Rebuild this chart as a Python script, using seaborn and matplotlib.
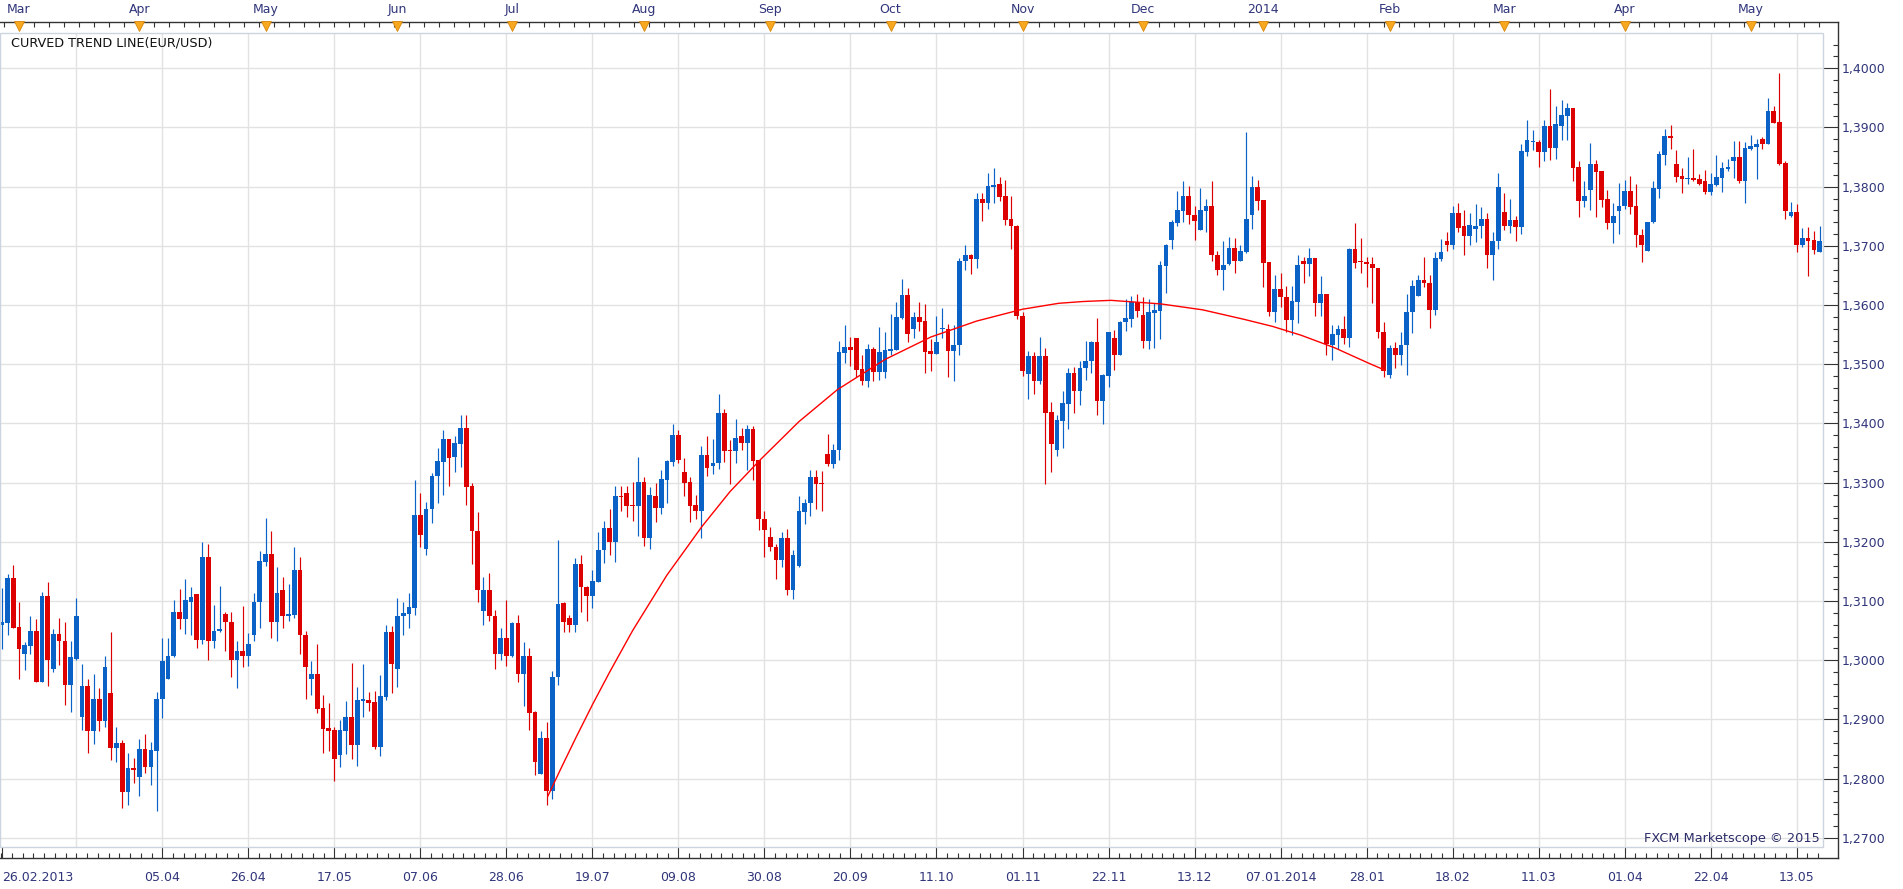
import numpy as np
import pandas as pd
import matplotlib
matplotlib.use("Agg")
import matplotlib.pyplot as plt
import seaborn as sns
from matplotlib.ticker import FixedLocator, FuncFormatter, MultipleLocator
from matplotlib.patches import Rectangle

# =============================== #
# data (EUR/USD daily)
# =============================== #
opens = [
    1.3059, 1.3063, 1.3139, 1.3057, 1.3010, 1.3024, 1.3050, 1.2964, 1.3108, 1.2985,
    1.3045, 1.3033, 1.2959, 1.3003, 1.2905, 1.2957, 1.2881, 1.2935, 1.2897, 1.2944,
    1.2851, 1.2860, 1.2778, 1.2818, 1.2802, 1.2850, 1.2819, 1.2847, 1.2934, 1.2968,
    1.3007, 1.3082, 1.3069, 1.3099, 1.3112, 1.3035, 1.3175, 1.3032, 1.3049, 1.3079,
    1.3065, 1.3001, 1.3016, 1.3008, 1.3042, 1.3098, 1.3166, 1.3180, 1.3064, 1.3118,
    1.3074, 1.3077, 1.3153, 1.3043, 1.2969, 1.2976, 1.2920, 1.2886, 1.2882, 1.2840,
    1.2881, 1.2905, 1.2857, 1.2932, 1.2933, 1.2929, 1.2854, 1.2938, 1.3048, 1.2986,
    1.3074, 1.3079, 1.3089, 1.3245, 1.3188, 1.3255, 1.3311, 1.3335, 1.3373, 1.3343,
    1.3366, 1.3392, 1.3294, 1.3219, 1.3084, 1.3118, 1.3075, 1.3010, 1.3038, 1.3007,
    1.3063, 1.2977, 1.3008, 1.2912, 1.2808, 1.2868, 1.2779, 1.2971, 1.3096, 1.3072,
    1.3060, 1.3163, 1.3124, 1.3108, 1.3132, 1.3186, 1.3224, 1.3199, 1.3277, 1.3282,
    1.3262, 1.3260, 1.3301, 1.3206, 1.3277, 1.3257, 1.3305, 1.3335, 1.3380, 1.3318,
    1.3301, 1.3262, 1.3252, 1.3346, 1.3328, 1.3333, 1.3418, 1.3355, 1.3353, 1.3379,
    1.3367, 1.3390, 1.3338, 1.3239, 1.3208, 1.3192, 1.3169, 1.3206, 1.3118, 1.3159,
    1.3251, 1.3265, 1.3309, 1.3299, 1.3349, 1.3331, 1.3355, 1.3519, 1.3529, 1.3544,
    1.3492, 1.3471, 1.3526, 1.3487, 1.3487, 1.3522, 1.3524, 1.3578, 1.3617, 1.3559,
    1.3580, 1.3573, 1.3523, 1.3518, 1.3559, 1.3559, 1.3523, 1.3532, 1.3674, 1.3684,
    1.3677, 1.3780, 1.3773, 1.3799, 1.3804, 1.3784, 1.3745, 1.3734, 1.3582, 1.3484,
    1.3514, 1.3472, 1.3514, 1.3420, 1.3355, 1.3405, 1.3433, 1.3486, 1.3455, 1.3493,
    1.3505, 1.3538, 1.3438, 1.3481, 1.3545, 1.3515, 1.3571, 1.3577, 1.3606, 1.3584,
    1.3540, 1.3587, 1.3590, 1.3666, 1.3710, 1.3738, 1.3759, 1.3785, 1.3753, 1.3727,
    1.3759, 1.3767, 1.3685, 1.3660, 1.3669, 1.3696, 1.3674, 1.3689, 1.3752, 1.3799,
    1.3777, 1.3672, 1.3589, 1.3628, 1.3614, 1.3574, 1.3606, 1.3675, 1.3669, 1.3679,
    1.3603, 1.3619, 1.3533, 1.3550, 1.3560, 1.3545, 1.3695, 1.3674, 1.3673, 1.3670,
    1.3663, 1.3555, 1.3482, 1.3528, 1.3516, 1.3532, 1.3588, 1.3615, 1.3643, 1.3638,
    1.3591, 1.3677, 1.3709, 1.3702, 1.3756, 1.3733, 1.3716, 1.3728, 1.3733, 1.3745,
    1.3684, 1.3708, 1.3758, 1.3733, 1.3743, 1.3732, 1.3859, 1.3875, 1.3875, 1.3859,
    1.3902, 1.3866, 1.3902, 1.3919, 1.3933, 1.3833, 1.3776, 1.3794, 1.3838, 1.3826,
    1.3779, 1.3738, 1.3759, 1.3767, 1.3792, 1.3767, 1.3719, 1.3691, 1.3740, 1.3796,
    1.3854, 1.3886, 1.3838, 1.3818, 1.3813, 1.3814, 1.3813, 1.3809, 1.3791, 1.3803,
    1.3815, 1.3830, 1.3844, 1.3850, 1.3810, 1.3864, 1.3867, 1.3880, 1.3872, 1.3928,
    1.3909, 1.3840, 1.3751, 1.3757, 1.3702, 1.3714, 1.3710, 1.3690,
]
highs = [
    1.3122, 1.3146, 1.3161, 1.3099, 1.3031, 1.3074, 1.3069, 1.3116, 1.3133, 1.3053,
    1.3072, 1.3064, 1.3032, 1.3106, 1.2994, 1.2969, 1.2977, 1.2954, 1.3008, 1.3047,
    1.2888, 1.2866, 1.2844, 1.2835, 1.2867, 1.2876, 1.2862, 1.2947, 1.3038, 1.3037,
    1.3101, 1.3120, 1.3137, 1.3124, 1.3112, 1.3199, 1.3197, 1.3094, 1.3126, 1.3082,
    1.3082, 1.3033, 1.3092, 1.3046, 1.3114, 1.3184, 1.3241, 1.3218, 1.3158, 1.3140,
    1.3129, 1.3192, 1.3175, 1.3050, 1.2998, 1.3028, 1.2942, 1.2928, 1.2888, 1.2899,
    1.2932, 1.2996, 1.2955, 1.2993, 1.2947, 1.2948, 1.2975, 1.3060, 1.3058, 1.3106,
    1.3099, 1.3114, 1.3304, 1.3282, 1.3267, 1.3316, 1.3358, 1.3389, 1.3373, 1.3379,
    1.3414, 1.3414, 1.3299, 1.3251, 1.3141, 1.3148, 1.3085, 1.3055, 1.3101, 1.3065,
    1.3077, 1.3031, 1.3020, 1.2915, 1.2881, 1.2896, 1.2982, 1.3204, 1.3098, 1.3077,
    1.3172, 1.3177, 1.3126, 1.3153, 1.3216, 1.3236, 1.3255, 1.3294, 1.3295, 1.3295,
    1.3301, 1.3343, 1.3309, 1.3292, 1.3299, 1.3321, 1.3338, 1.3399, 1.3389, 1.3341,
    1.3309, 1.3279, 1.3362, 1.3379, 1.3373, 1.3450, 1.3424, 1.3372, 1.3407, 1.3392,
    1.3397, 1.3395, 1.3339, 1.3253, 1.3225, 1.3196, 1.3216, 1.3221, 1.3187, 1.3278,
    1.3273, 1.3322, 1.3322, 1.3319, 1.3383, 1.3366, 1.3539, 1.3566, 1.3546, 1.3544,
    1.3515, 1.3534, 1.3529, 1.3563, 1.3554, 1.3585, 1.3605, 1.3644, 1.3629, 1.3588,
    1.3605, 1.3602, 1.3543, 1.3581, 1.3595, 1.3568, 1.3566, 1.3680, 1.3702, 1.3687,
    1.3790, 1.3790, 1.3823, 1.3831, 1.3816, 1.3811, 1.3784, 1.3736, 1.3588, 1.3523,
    1.3521, 1.3546, 1.3528, 1.3437, 1.3415, 1.3455, 1.3494, 1.3496, 1.3505, 1.3540,
    1.3540, 1.3579, 1.3484, 1.3555, 1.3558, 1.3573, 1.3611, 1.3616, 1.3619, 1.3614,
    1.3611, 1.3604, 1.3675, 1.3704, 1.3743, 1.3792, 1.3809, 1.3801, 1.3767, 1.3797,
    1.3780, 1.3809, 1.3692, 1.3708, 1.3715, 1.3713, 1.3701, 1.3892, 1.3818, 1.3811,
    1.3777, 1.3672, 1.3651, 1.3655, 1.3633, 1.3632, 1.3685, 1.3682, 1.3697, 1.3679,
    1.3649, 1.3619, 1.3567, 1.3567, 1.3582, 1.3697, 1.3738, 1.3714, 1.3682, 1.3682,
    1.3663, 1.3572, 1.3533, 1.3537, 1.3554, 1.3618, 1.3642, 1.3650, 1.3682, 1.3650,
    1.3690, 1.3712, 1.3723, 1.3768, 1.3772, 1.3760, 1.3756, 1.3770, 1.3765, 1.3755,
    1.3724, 1.3823, 1.3790, 1.3780, 1.3750, 1.3872, 1.3912, 1.3895, 1.3879, 1.3912,
    1.3965, 1.3936, 1.3946, 1.3941, 1.3933, 1.3844, 1.3809, 1.3873, 1.3845, 1.3826,
    1.3795, 1.3772, 1.3807, 1.3812, 1.3818, 1.3804, 1.3729, 1.3741, 1.3809, 1.3860,
    1.3897, 1.3904, 1.3862, 1.3831, 1.3850, 1.3864, 1.3821, 1.3828, 1.3823, 1.3853,
    1.3842, 1.3847, 1.3877, 1.3877, 1.3875, 1.3887, 1.3880, 1.3884, 1.3950, 1.3936,
    1.3992, 1.3843, 1.3774, 1.3771, 1.3730, 1.3732, 1.3725, 1.3734,
]
lows = [
    1.3019, 1.3042, 1.3054, 1.2968, 1.2983, 1.3010, 1.2964, 1.2964, 1.2956, 1.2980,
    1.2992, 1.2924, 1.2912, 1.3001, 1.2883, 1.2844, 1.2858, 1.2880, 1.2888, 1.2831,
    1.2829, 1.2751, 1.2756, 1.2793, 1.2771, 1.2810, 1.2790, 1.2746, 1.2902, 1.2968,
    1.3005, 1.3053, 1.3044, 1.3043, 1.3021, 1.3028, 1.3001, 1.3021, 1.3047, 1.3015,
    1.2972, 1.2954, 1.2989, 1.2991, 1.3032, 1.3054, 1.3160, 1.3037, 1.3033, 1.3054,
    1.3067, 1.3072, 1.3010, 1.2935, 1.2942, 1.2911, 1.2844, 1.2847, 1.2796, 1.2820,
    1.2842, 1.2833, 1.2821, 1.2905, 1.2915, 1.2850, 1.2838, 1.2933, 1.2944, 1.2955,
    1.3042, 1.3054, 1.3076, 1.3191, 1.3177, 1.3232, 1.3265, 1.3279, 1.3294, 1.3318,
    1.3326, 1.3262, 1.3162, 1.3099, 1.3059, 1.3066, 1.2986, 1.3001, 1.2991, 1.3005,
    1.2964, 1.2923, 1.2882, 1.2806, 1.2808, 1.2755, 1.2766, 1.2959, 1.3048, 1.3048,
    1.3048, 1.3082, 1.3067, 1.3089, 1.3132, 1.3164, 1.3177, 1.3166, 1.3252, 1.3242,
    1.3235, 1.3210, 1.3193, 1.3188, 1.3233, 1.3247, 1.3266, 1.3328, 1.3333, 1.3277,
    1.3233, 1.3238, 1.3206, 1.3311, 1.3315, 1.3323, 1.3335, 1.3298, 1.3333, 1.3356,
    1.3321, 1.3304, 1.3220, 1.3174, 1.3184, 1.3138, 1.3157, 1.3111, 1.3104, 1.3157,
    1.3230, 1.3243, 1.3256, 1.3253, 1.3329, 1.3324, 1.3338, 1.3502, 1.3497, 1.3478,
    1.3465, 1.3461, 1.3471, 1.3473, 1.3476, 1.3515, 1.3524, 1.3576, 1.3537, 1.3544,
    1.3556, 1.3485, 1.3488, 1.3518, 1.3545, 1.3479, 1.3472, 1.3516, 1.3659, 1.3652,
    1.3662, 1.3742, 1.3763, 1.3773, 1.3775, 1.3736, 1.3695, 1.3576, 1.3481, 1.3442,
    1.3449, 1.3467, 1.3297, 1.3318, 1.3345, 1.3359, 1.3391, 1.3418, 1.3432, 1.3474,
    1.3486, 1.3415, 1.3399, 1.3462, 1.3491, 1.3515, 1.3557, 1.3563, 1.3580, 1.3527,
    1.3525, 1.3528, 1.3543, 1.3620, 1.3694, 1.3733, 1.3740, 1.3737, 1.3710, 1.3727,
    1.3723, 1.3674, 1.3650, 1.3625, 1.3667, 1.3655, 1.3674, 1.3688, 1.3728, 1.3760,
    1.3630, 1.3582, 1.3571, 1.3596, 1.3555, 1.3550, 1.3569, 1.3637, 1.3649, 1.3581,
    1.3582, 1.3516, 1.3508, 1.3525, 1.3535, 1.3530, 1.3662, 1.3654, 1.3630, 1.3603,
    1.3544, 1.3479, 1.3477, 1.3493, 1.3499, 1.3482, 1.3552, 1.3615, 1.3630, 1.3562,
    1.3584, 1.3674, 1.3692, 1.3694, 1.3724, 1.3685, 1.3702, 1.3707, 1.3714, 1.3662,
    1.3643, 1.3694, 1.3727, 1.3721, 1.3708, 1.3720, 1.3852, 1.3862, 1.3833, 1.3844,
    1.3845, 1.3847, 1.3879, 1.3879, 1.3810, 1.3749, 1.3766, 1.3760, 1.3749, 1.3766,
    1.3728, 1.3705, 1.3720, 1.3762, 1.3754, 1.3698, 1.3672, 1.3691, 1.3738, 1.3781,
    1.3837, 1.3864, 1.3808, 1.3790, 1.3805, 1.3810, 1.3803, 1.3788, 1.3786, 1.3801,
    1.3791, 1.3827, 1.3814, 1.3807, 1.3773, 1.3862, 1.3813, 1.3864, 1.3872, 1.3908,
    1.3836, 1.3746, 1.3749, 1.3690, 1.3698, 1.3649, 1.3686, 1.3690,
]
closes = [
    1.3064, 1.3139, 1.3055, 1.3019, 1.3025, 1.3050, 1.2964, 1.3108, 1.3000, 1.3045,
    1.3032, 1.2959, 1.3005, 1.3074, 1.2957, 1.2881, 1.2935, 1.2897, 1.2989, 1.2851,
    1.2860, 1.2778, 1.2818, 1.2815, 1.2850, 1.2819, 1.2849, 1.2935, 1.2998, 1.3008,
    1.3082, 1.3069, 1.3101, 1.3107, 1.3035, 1.3175, 1.3032, 1.3050, 1.3053, 1.3064,
    1.3001, 1.3016, 1.3008, 1.3028, 1.3099, 1.3167, 1.3180, 1.3064, 1.3114, 1.3074,
    1.3079, 1.3153, 1.3042, 1.2989, 1.2976, 1.2918, 1.2884, 1.2881, 1.2833, 1.2882,
    1.2905, 1.2857, 1.2933, 1.2935, 1.2928, 1.2854, 1.2940, 1.3048, 1.2994, 1.3075,
    1.3080, 1.3090, 1.3245, 1.3211, 1.3256, 1.3312, 1.3336, 1.3373, 1.3342, 1.3367,
    1.3392, 1.3292, 1.3218, 1.3118, 1.3118, 1.3074, 1.3010, 1.3038, 1.3008, 1.3063,
    1.2977, 1.3008, 1.2911, 1.2828, 1.2868, 1.2779, 1.2972, 1.3095, 1.3065, 1.3060,
    1.3163, 1.3123, 1.3108, 1.3134, 1.3187, 1.3224, 1.3199, 1.3277, 1.3275, 1.3260,
    1.3260, 1.3301, 1.3206, 1.3280, 1.3257, 1.3306, 1.3336, 1.3380, 1.3338, 1.3299,
    1.3260, 1.3252, 1.3346, 1.3325, 1.3334, 1.3418, 1.3353, 1.3353, 1.3375, 1.3367,
    1.3390, 1.3336, 1.3238, 1.3220, 1.3191, 1.3169, 1.3206, 1.3118, 1.3177, 1.3253,
    1.3266, 1.3309, 1.3297, 1.3298, 1.3331, 1.3356, 1.3520, 1.3529, 1.3524, 1.3490,
    1.3471, 1.3526, 1.3487, 1.3520, 1.3524, 1.3526, 1.3580, 1.3617, 1.3551, 1.3580,
    1.3571, 1.3520, 1.3518, 1.3538, 1.3560, 1.3523, 1.3533, 1.3675, 1.3684, 1.3677,
    1.3780, 1.3773, 1.3801, 1.3802, 1.3782, 1.3743, 1.3733, 1.3581, 1.3489, 1.3514,
    1.3472, 1.3514, 1.3418, 1.3366, 1.3406, 1.3435, 1.3486, 1.3455, 1.3494, 1.3506,
    1.3538, 1.3438, 1.3482, 1.3555, 1.3515, 1.3572, 1.3579, 1.3606, 1.3590, 1.3540,
    1.3589, 1.3592, 1.3667, 1.3702, 1.3740, 1.3760, 1.3785, 1.3752, 1.3742, 1.3760,
    1.3767, 1.3684, 1.3660, 1.3667, 1.3696, 1.3674, 1.3691, 1.3746, 1.3799, 1.3776,
    1.3671, 1.3588, 1.3628, 1.3613, 1.3574, 1.3607, 1.3667, 1.3669, 1.3679, 1.3603,
    1.3619, 1.3535, 1.3551, 1.3560, 1.3545, 1.3695, 1.3671, 1.3672, 1.3669, 1.3662,
    1.3554, 1.3488, 1.3528, 1.3516, 1.3533, 1.3589, 1.3633, 1.3643, 1.3637, 1.3591,
    1.3679, 1.3690, 1.3702, 1.3756, 1.3731, 1.3716, 1.3736, 1.3734, 1.3745, 1.3684,
    1.3709, 1.3799, 1.3733, 1.3743, 1.3732, 1.3860, 1.3879, 1.3876, 1.3859, 1.3902,
    1.3866, 1.3906, 1.3921, 1.3933, 1.3832, 1.3776, 1.3785, 1.3838, 1.3825, 1.3777,
    1.3738, 1.3751, 1.3768, 1.3792, 1.3766, 1.3718, 1.3701, 1.3741, 1.3797, 1.3855,
    1.3885, 1.3883, 1.3817, 1.3813, 1.3814, 1.3812, 1.3805, 1.3791, 1.3804, 1.3816,
    1.3831, 1.3833, 1.3850, 1.3810, 1.3865, 1.3869, 1.3872, 1.3872, 1.3928, 1.3908,
    1.3838, 1.3759, 1.3757, 1.3702, 1.3714, 1.3708, 1.3693, 1.3708,
]

# bottom date axis (candle index -> label)
date_ticks = [0, 28, 43, 58, 73, 88, 103, 118, 133, 148, 163, 178, 193, 208,
              223, 238, 253, 268, 283, 298, 313]
date_labels = ["26.02.2013", "05.04", "26.04", "17.05", "07.06", "28.06", "19.07",
               "09.08", "30.08", "20.09", "11.10", "01.11", "22.11", "13.12",
               "07.01.2014", "28.01", "18.02", "11.03", "01.04", "22.04", "13.05"]
grid_ticks = list(range(13, 318, 15))

# top month axis
month_ticks = [3, 24, 46, 69, 89, 112, 134, 155, 178, 199, 220, 242, 262, 283, 305]
month_labels = ["Mar", "Apr", "May", "Jun", "Jul", "Aug", "Sep", "Oct", "Nov",
                "Dec", "2014", "Feb", "Mar", "Apr", "May"]

# curved trend line
trend_x = [95.2, 97.4, 100.0, 103.0, 106.0, 110.0, 116.0, 122.1, 127.0, 132.3,
           139.0, 145.7, 154.0, 162.0, 170.0, 178.0, 184.3, 188.5, 193.4, 202.1,
           209.4, 216.6, 221.6, 226.6, 232.4, 238.1, 241.2]
trend_y = [1.2770, 1.2815, 1.2867, 1.2925, 1.2980, 1.3050, 1.3144, 1.3226, 1.3285, 1.3339,
           1.3403, 1.3457, 1.3508, 1.3546, 1.3573, 1.3593, 1.3603, 1.3606, 1.3608, 1.3602,
           1.3592, 1.3576, 1.3564, 1.3549, 1.3528, 1.3503, 1.3490]

# =============================== #
# styling
# =============================== #
BLUE = "#0A61C6"
RED = "#DD0000"
TXT = "#30357A"
GRID = "#E2E2E2"

sns.set_theme(style="white")
plt.rcParams['font.family'] = ['DejaVu Sans']
plt.rcParams['font.size'] = 9

df = pd.DataFrame({"open": opens, "high": highs, "low": lows, "close": closes})
df["idx"] = np.arange(len(df))
df["up"] = df["close"] >= df["open"]
df["color"] = np.where(df["up"], BLUE, RED)
df["body_lo"] = df[["open", "close"]].min(axis=1)
df["body_h"] = (df["close"] - df["open"]).abs().clip(lower=0.00018)

W, H = 1903, 889
fig = plt.figure(figsize=(W / 100, H / 100), dpi=100)
ax = fig.add_axes([0, 42 / H, 1822.7 / W, 814 / H])

x0, x1 = -0.31, 317.54
y0, y1 = 1.26846, 1.40596
ax.set_xlim(x0, x1)
ax.set_ylim(y0, y1)

# candles
ax.vlines(df["idx"], df["low"], df["high"], colors=df["color"], lw=0.85, zorder=2)
ax.bar(df["idx"], df["body_h"], bottom=df["body_lo"], width=0.82,
       color=df["color"], linewidth=0, zorder=2)

# trend line
sns.lineplot(x=trend_x, y=trend_y, ax=ax, color="#FF0000", lw=1.0, sort=False, zorder=3)
ax.set_xlabel("")
ax.set_ylabel("")

# grid
ax.set_axisbelow(True)
for g in grid_ticks:
    ax.axvline(g, color=GRID, lw=1.0, zorder=0)
for p in np.arange(1.27, 1.4001, 0.01):
    ax.axhline(p, color=GRID, lw=1.0, zorder=0)

# plot-area border
ax.add_patch(Rectangle((0, 0), 1, 1, transform=ax.transAxes, fill=False,
                       ec="#CCD5DF", lw=1.0, clip_on=False, zorder=4))

# spines
x_ext = x1 + 15 / 5.7347
ax.spines['left'].set_visible(False)
ax.spines['top'].set_visible(False)
ax.spines['bottom'].set_position(('outward', 7.9))
ax.spines['right'].set_position(('outward', 10.8))
for s in ['bottom', 'right']:
    ax.spines[s].set_color("#333333")
    ax.spines[s].set_linewidth(1.0)
ax.spines['bottom'].set_bounds(x0, x_ext)
ax.spines['right'].set_bounds(y0 - 11 / 5920, y1 + 11 / 5920)

# bottom axis ticks
ax.xaxis.set_major_locator(FixedLocator(date_ticks))
ax.set_xticklabels(date_labels)
ax.xaxis.set_minor_locator(FixedLocator(np.arange(-2, 318, 1.875)))
ax.tick_params(axis='x', which='major', direction='in', length=7.9, width=0.8,
               color="#333333", labelcolor=TXT, labelsize=9, pad=9.5, bottom=True)
ax.tick_params(axis='x', which='minor', direction='in', length=3.6, width=0.8,
               color="#333333", bottom=True)
ax.get_xticklabels()[0].set_horizontalalignment('left')

# right price axis
ax.yaxis.tick_right()
ax.yaxis.set_major_locator(FixedLocator(np.arange(1.27, 1.4001, 0.01)))
ax.yaxis.set_minor_locator(MultipleLocator(0.002))
ax.yaxis.set_major_formatter(FuncFormatter(lambda v, p: f"{v:.4f}".replace(".", ",")))
ax.tick_params(axis='y', which='major', direction='in', length=10.8, width=0.8,
               color="#333333", labelcolor=TXT, labelsize=9, pad=3, right=True, left=False)
ax.tick_params(axis='y', which='minor', direction='in', length=3.6, width=0.8,
               color="#333333", right=True, left=False)

# top month axis
top = ax.secondary_xaxis(1.0135)
top.set_xticks(month_ticks)
top.set_xticklabels(month_labels)
top.xaxis.set_minor_locator(FixedLocator(np.arange(0.444, 318, 2.616)))
top.tick_params(axis='x', which='major', length=0, labelcolor=TXT, labelsize=9, pad=4.5)
top.tick_params(axis='x', which='minor', direction='in', length=3.6, width=0.8, color="#333333")
top.spines['top'].set_color("#333333")
top.spines['top'].set_linewidth(1.0)
top.spines['top'].set_bounds(x0, x_ext)

# month markers
ax.plot(month_ticks, [1.0085] * len(month_ticks), ls='none', marker='v', ms=6.5,
        color="#F7A81E", mec="#D8870E", mew=0.6,
        transform=ax.get_xaxis_transform(), clip_on=False, zorder=5)

# texts
ax.text(0.006, 0.9877, "CURVED TREND LINE(EUR/USD)", transform=ax.transAxes,
        ha='left', va='center', fontsize=9.2, color="#111111")
ax.text(0.9985, 0.011, "FXCM Marketscope \u00a9 2015", transform=ax.transAxes,
        ha='right', va='center', fontsize=9.3, color="#2D2D6B", zorder=5)

fig.savefig("out.png", dpi=100, facecolor="white")
